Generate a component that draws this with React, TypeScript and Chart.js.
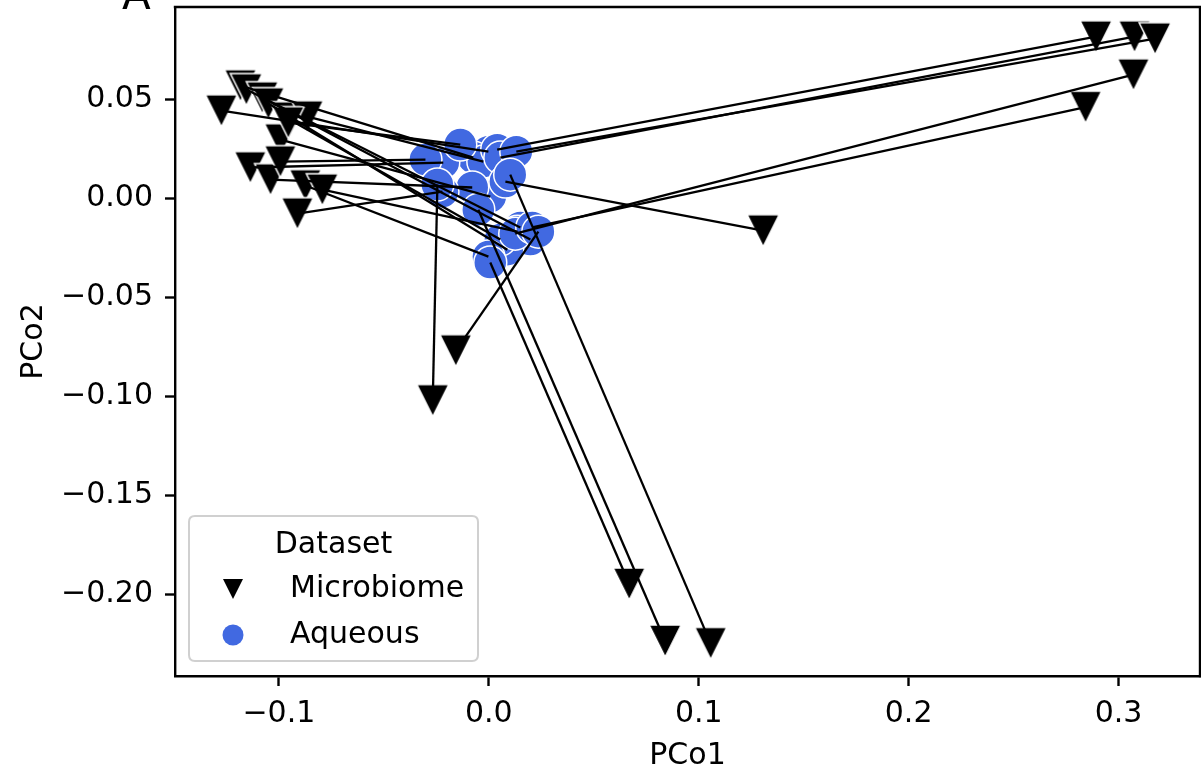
import React, { useEffect, useRef } from 'react';
import { Chart, registerables } from 'chart.js';

Chart.register(...registerables);

// Microbiome points (triangles) and their paired Aqueous points (circles)
const microbiomeX = [
  -0.1274, -0.1183, -0.1155, -0.1079, -0.1050, -0.0964, -0.0864, -0.0993,
  -0.1136, -0.1040, -0.0993, -0.0874, -0.0793, -0.0912, -0.0955,
  0.2893, 0.3076, 0.3174, 0.3071, 0.2843, 0.1307, -0.0157, -0.0267,
  0.0669, 0.0840, 0.1057,
];
const microbiomeY = [
  0.0444, 0.0571, 0.0551, 0.0510, 0.0480, 0.0409, 0.0414, 0.0298,
  0.0157, 0.0096, 0.0187, 0.0066, 0.0045, -0.0076, 0.0384,
  0.0818, 0.0818, 0.0808, 0.0626, 0.0462, -0.0162, -0.0768, -0.1020,
  -0.1947, -0.2235, -0.2247,
];
const aqueousX = [
  -0.0002, -0.0074, 0.0150, 0.0198, 0.0088, 0.0055, -0.0026, 0.0007,
  -0.0217, -0.0079, -0.0302, -0.0002, 0.0136, -0.0221, -0.0136,
  0.0040, 0.0055, 0.0131, 0.0126, 0.0207, 0.0079, 0.0236, -0.0245,
  0.0007, -0.0050, 0.0102,
];
const aqueousY = [
  0.0237, 0.0207, -0.0146, -0.0207, -0.0258, -0.0207, 0.0187, 0.0010,
  0.0182, 0.0056, 0.0197, -0.0293, -0.0167, 0.0035, 0.0273,
  0.0247, 0.0207, 0.0237, -0.0177, -0.0146, 0.0086, -0.0167, 0.0071,
  -0.0323, -0.0056, 0.0121,
];

const xTickValues = [-0.1, 0.0, 0.1, 0.2, 0.3];
const yTickValues = [-0.2, -0.15, -0.1, -0.05, 0.0, 0.05];
const xLimits = [-0.1495, 0.3388];
const yLimits = [-0.2412, 0.0968];

const seriesNames = ['Microbiome', 'Aqueous'];
const legendTitle = 'Dataset';
const xTitle = 'PCo1';
const yTitle = 'PCo2';
const panelLabel = 'A';

const FONT = '"DejaVu Sans", "Noto Sans", sans-serif';
const BLUE = '#4169E1';

function fmt(v: number, d: number): string {
  const s = Math.abs(v) < 1e-9 ? (0).toFixed(d) : v.toFixed(d);
  return s.replace('-', '\u2212');
}

function makeTriangle(size: number, edge: number, pad: number): HTMLCanvasElement {
  const c = document.createElement('canvas');
  c.width = size + 2 * pad;
  c.height = size + 2 * pad;
  const ctx = c.getContext('2d')!;
  ctx.beginPath();
  ctx.moveTo(pad, pad);
  ctx.lineTo(pad + size, pad);
  ctx.lineTo(pad + size / 2, pad + size);
  ctx.closePath();
  ctx.fillStyle = '#000';
  ctx.fill();
  if (edge > 0) {
    ctx.strokeStyle = '#fff';
    ctx.lineWidth = edge;
    ctx.stroke();
  }
  return c;
}

const zeroPad = (s: any) => {
  s.paddingTop = 0;
  s.paddingBottom = 0;
  s.paddingLeft = 0;
  s.paddingRight = 0;
};

const decorPlugin = {
  id: 'decor',
  afterDraw(chart: any) {
    const { ctx, chartArea } = chart;
    const { left, right, top, bottom } = chartArea;
    ctx.save();
    // top & right spines
    ctx.strokeStyle = '#000';
    ctx.lineWidth = 2.4;
    ctx.beginPath();
    ctx.moveTo(left - 1.2, top);
    ctx.lineTo(right, top);
    ctx.lineTo(right, bottom + 1.2);
    ctx.stroke();

    // axis titles
    ctx.fillStyle = '#000';
    ctx.font = `30px ${FONT}`;
    ctx.textAlign = 'center';
    ctx.textBaseline = 'alphabetic';
    ctx.fillText(xTitle, (left + right) / 2, 764);
    ctx.save();
    ctx.translate(42, (top + bottom) / 2);
    ctx.rotate(-Math.PI / 2);
    ctx.fillText(yTitle, 0, 0);
    ctx.restore();

    // panel label
    ctx.font = `42px ${FONT}`;
    ctx.textAlign = 'left';
    ctx.fillText(panelLabel, 122, 9);

    // legend
    const bx = 189, by = 516, bw = 289, bh = 145, r = 6;
    ctx.beginPath();
    ctx.moveTo(bx + r, by);
    ctx.lineTo(bx + bw - r, by);
    ctx.quadraticCurveTo(bx + bw, by, bx + bw, by + r);
    ctx.lineTo(bx + bw, by + bh - r);
    ctx.quadraticCurveTo(bx + bw, by + bh, bx + bw - r, by + bh);
    ctx.lineTo(bx + r, by + bh);
    ctx.quadraticCurveTo(bx, by + bh, bx, by + bh - r);
    ctx.lineTo(bx, by + r);
    ctx.quadraticCurveTo(bx, by, bx + r, by);
    ctx.closePath();
    ctx.fillStyle = 'rgba(255,255,255,0.8)';
    ctx.fill();
    ctx.strokeStyle = '#d0d0d0';
    ctx.lineWidth = 2;
    ctx.stroke();

    ctx.fillStyle = '#000';
    ctx.font = `30px ${FONT}`;
    ctx.textAlign = 'center';
    ctx.fillText(legendTitle, bx + bw / 2, 553);
    ctx.textAlign = 'left';
    ctx.fillText(seriesNames[0], 290, 597);
    ctx.fillText(seriesNames[1], 290, 643);

    // legend markers
    ctx.beginPath();
    ctx.moveTo(223, 579);
    ctx.lineTo(243, 579);
    ctx.lineTo(233, 599);
    ctx.closePath();
    ctx.fillStyle = '#000';
    ctx.fill();
    ctx.beginPath();
    ctx.arc(233, 635, 10.5, 0, Math.PI * 2);
    ctx.fillStyle = BLUE;
    ctx.fill();
    ctx.restore();
  },
};

export default function App() {
  const ref = useRef<HTMLCanvasElement | null>(null);

  useEffect(() => {
    const canvas = ref.current;
    if (!canvas) return;
    const tri = makeTriangle(32, 1.5, 2);

    const lineSets = microbiomeX.map((mx, i) => ({
      type: 'scatter' as const,
      data: [
        { x: mx, y: microbiomeY[i] },
        { x: aqueousX[i], y: aqueousY[i] },
      ],
      showLine: true,
      borderColor: '#000',
      borderWidth: 2.3,
      pointRadius: 0,
      fill: false,
    }));

    const circleSet = {
      label: seriesNames[1],
      data: aqueousX.map((x, i) => ({ x, y: aqueousY[i] })),
      pointStyle: 'circle',
      pointRadius: 16.5,
      backgroundColor: BLUE,
      borderColor: '#ffffff',
      borderWidth: 1.5,
    };

    const triSet = {
      label: seriesNames[0],
      data: microbiomeX.map((x, i) => ({ x, y: microbiomeY[i] })),
      pointStyle: tri,
      pointRadius: 16,
      backgroundColor: '#000',
      borderColor: '#000',
    };

    const chart = new Chart(canvas, {
      type: 'scatter',
      data: { datasets: [...lineSets, circleSet, triSet] as any },
      options: {
        animation: false,
        responsive: false,
        events: [],
        layout: { autoPadding: false, padding: { top: 7, right: 1, left: 0, bottom: 0 } },
        plugins: { legend: { display: false }, tooltip: { enabled: false } },
        scales: {
          x: {
            type: 'linear',
            min: xLimits[0],
            max: xLimits[1],
            afterFit: (s: any) => { s.height = 92; zeroPad(s); },
            afterBuildTicks: (s: any) => { s.ticks = xTickValues.map((v) => ({ value: v })); },
            grid: { display: true, drawOnChartArea: false, drawTicks: true, tickLength: 10, tickWidth: 2.4, tickColor: '#000', color: '#000' },
            border: { display: true, color: '#000', width: 2.4 },
            ticks: {
              color: '#000',
              font: { family: FONT, size: 30 },
              padding: 10,
              maxRotation: 0,
              autoSkip: false,
              callback: (v: any) => fmt(Number(v), 1),
            },
          },
          y: {
            type: 'linear',
            min: yLimits[0],
            max: yLimits[1],
            afterFit: (s: any) => { s.width = 175; zeroPad(s); },
            afterBuildTicks: (s: any) => { s.ticks = yTickValues.map((v) => ({ value: v })); },
            grid: { display: true, drawOnChartArea: false, drawTicks: true, tickLength: 10, tickWidth: 2.4, tickColor: '#000', color: '#000' },
            border: { display: true, color: '#000', width: 2.4 },
            ticks: {
              color: '#000',
              font: { family: FONT, size: 30 },
              padding: 12,
              autoSkip: false,
              callback: (v: any) => fmt(Number(v), 2),
            },
          },
        },
      } as any,
      plugins: [decorPlugin],
    });

    return () => chart.destroy();
  }, []);

  return (
    <div style={{ position: 'absolute', left: 0, top: 0, width: 1201, height: 768, background: '#fff' }}>
      <canvas ref={ref} width={1201} height={768} style={{ display: 'block', width: 1201, height: 768 }} />
    </div>
  );
}
